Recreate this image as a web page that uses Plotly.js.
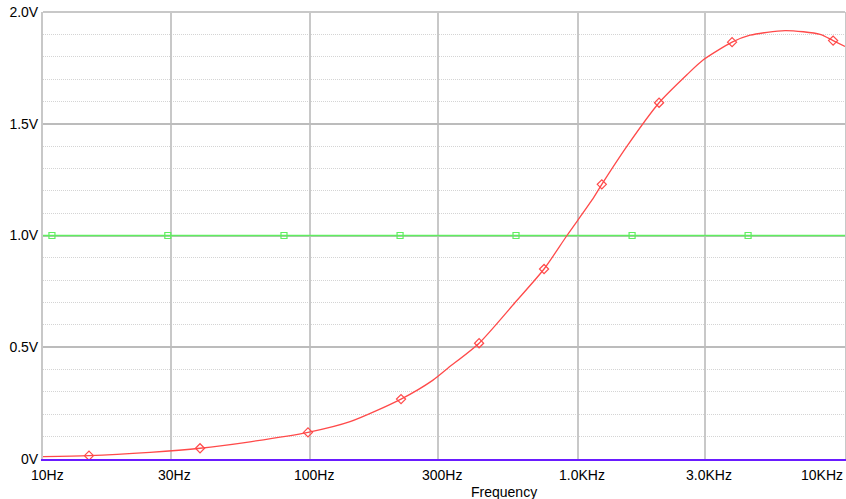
<!DOCTYPE html>
<html>
<head>
<meta charset="utf-8">
<script src="https://cdn.plot.ly/plotly-3.0.1.min.js"></script>
<style>html,body{margin:0;padding:0;background:#fff;}#chart{width:846px;height:499px;}</style>
</head>
<body>
<div id="chart"></div>
<script>
// Red curve (output voltage vs frequency)
const curveFreq = [10, 14.86, 25.14, 38.67, 59.5, 98, 140.8, 218.4, 287.7, 327.5, 427.8, 583.3, 748.6, 912, 1132, 1231, 1530, 2016, 2567, 2945, 3781, 4416, 5970, 8069, 9026, 10000];
const curveVolt = [0.011, 0.015, 0.030, 0.048, 0.077, 0.119, 0.167, 0.268, 0.353, 0.407, 0.518, 0.700, 0.850, 1.000, 1.159, 1.229, 1.400, 1.594, 1.720, 1.785, 1.865, 1.896, 1.917, 1.900, 1.872, 1.846];
// Red diamond marker positions
const redMarkFreq = [14.86, 38.67, 98, 218.4, 427.8, 748.6, 1231, 2016, 3781, 9026];
const redMarkVolt = [0.015, 0.048, 0.119, 0.268, 0.518, 0.850, 1.229, 1.594, 1.865, 1.872];
// Green reference trace (1.0 V)
const greenFreq = [10, 10000];
const greenVolt = [1.0, 1.0];
const greenMarkFreq = [10.8, 29.3, 79.7, 216.6, 588, 1598, 4340];
const greenMarkVolt = [1.0, 1.0, 1.0, 1.0, 1.0, 1.0, 1.0];
// Axis ticks
const xTickVals = [10, 30, 100, 300, 1000, 3000, 10000];
const xTickText = ['10Hz', '30Hz', '100Hz', '300Hz', '1.0KHz', '3.0KHz', '10KHz'];
const yTickVals = [0, 0.5, 1.0, 1.5, 2.0];
const yTickText = ['0V', '0.5V', '1.0V', '1.5V', '2.0V'];
const xTitle = 'Frequency';

const RED = '#ff4a4a';
const GREEN = '#5fee5f';
const FONT = 'Liberation Sans, Arial, sans-serif';

const traces = [
  {x: greenFreq, y: greenVolt, mode: 'lines', line: {color: GREEN, width: 1.5}, hoverinfo: 'skip'},
  {x: greenMarkFreq, y: greenMarkVolt, mode: 'markers', marker: {symbol: 'square-open', size: 6, color: GREEN, line: {width: 1.2}}, hoverinfo: 'skip'},
  {x: curveFreq, y: curveVolt, mode: 'lines', line: {color: RED, width: 1.3, shape: 'spline', smoothing: 0.7}, hoverinfo: 'skip'},
  {x: redMarkFreq, y: redMarkVolt, mode: 'markers', marker: {symbol: 'diamond-open', size: 7, color: RED, line: {width: 1.2}}, hoverinfo: 'skip'}
];

const annotations = xTickVals.map((v, i) => {
  const last = i === xTickVals.length - 1;
  return {
    x: Math.log10(v), xref: 'x', y: 0, yref: 'paper',
    text: xTickText[i], showarrow: false,
    xanchor: last ? 'right' : 'center', yanchor: 'middle',
    xshift: last ? 0 : 4, yshift: -16,
    font: {family: FONT, size: 14, color: '#000'}
  };
});
annotations.push({
  x: (504 - 43) / (845 - 43), xref: 'paper', y: 0, yref: 'paper', text: xTitle, showarrow: false,
  font: {family: FONT, size: 14, color: '#000'}, yanchor: 'middle', xanchor: 'center', yshift: -33
});

const layout = {
  width: 846, height: 499,
  margin: {l: 43, r: 1, t: 12, b: 40, pad: 0},
  paper_bgcolor: '#fff', plot_bgcolor: '#fff',
  showlegend: false,
  font: {family: FONT, size: 14, color: '#000'},
  xaxis: {
    type: 'log', range: [1, 4],
    tickvals: xTickVals, showticklabels: false, ticks: '',
    showgrid: true, gridcolor: '#c8c8c8', gridwidth: 2,
    showline: true, linecolor: '#6a1bff', linewidth: 1.5,
    zeroline: false
  },
  yaxis: {
    range: [0, 2], tickvals: yTickVals, ticktext: yTickText, ticks: '',
    tickfont: {family: FONT, size: 14, color: '#000'},
    showgrid: true, gridcolor: '#bcbcbc', gridwidth: 2,
    showline: true, mirror: true, linecolor: '#c8c8c8', linewidth: 2,
    zeroline: false,
    minor: {dtick: 0.1, showgrid: true, gridcolor: '#d4d4d4', griddash: '1px,1px', gridwidth: 1, ticks: ''}
  },
  shapes: [
    {type: 'line', xref: 'paper', yref: 'paper', x0: 0, x1: 1, y0: 1, y1: 1, line: {color: '#c8c8c8', width: 2}}
  ],
  annotations: annotations
};

Plotly.newPlot('chart', traces, layout, {displayModeBar: false, staticPlot: true});
</script>
</body>
</html>
